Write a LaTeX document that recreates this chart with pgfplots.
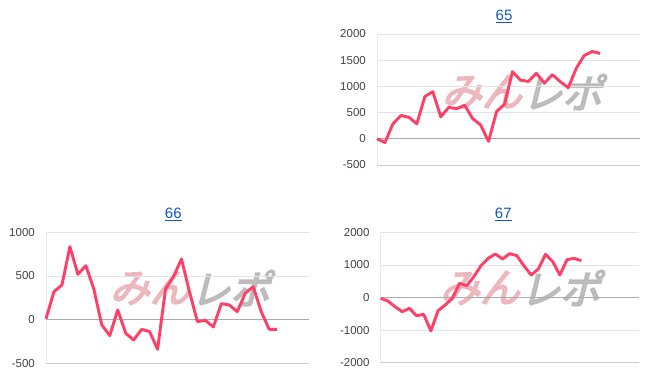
\documentclass[border=0pt]{standalone}
\usepackage{pgfplots}
\pgfplotsset{compat=1.18}
\usepackage{fontspec}
\setmainfont{Liberation Sans}
\newfontfamily\cjk{Noto Sans CJK JP}[FakeSlant=0.25,AutoFakeBold=4]
\definecolor{linec}{HTML}{FF3F65}
\definecolor{gridc}{HTML}{E3E3E3}
\definecolor{zeroc}{HTML}{ABABAB}
\definecolor{botc}{HTML}{CCCCCC}
\definecolor{leftc}{HTML}{EBEBEB}
\definecolor{tickc}{HTML}{444444}
\definecolor{titlec}{HTML}{1155CC}
\definecolor{wmpink}{HTML}{EBB0B7}
\definecolor{wmgrey}{HTML}{B5B5B5}
\pgfplotsset{mini/.style={
  scale only axis, height=131pt,
  anchor=south west,
  xmin=0,
  axis x line*=bottom, axis y line*=left,
  axis line style={-},
  x axis line style={draw=botc, line width=0.8pt},
  y axis line style={draw=leftc, line width=0.8pt},
  xtick=\empty,
  major tick length=0pt,
  ymajorgrids,
  major grid style={draw=gridc, line width=0.8pt},
  extra y ticks={0}, extra y tick labels={},
  extra y tick style={ymajorgrids=true, major grid style={draw=zeroc, line width=0.9pt}},
  yticklabel style={font=\fontsize{11.5}{12}\selectfont, text=tickc, anchor=east, inner sep=0pt, xshift=-11pt},
  /pgf/number format/assume math mode=true,
  /pgf/number format/set thousands separator={},
  clip=false,
}}
\tikzset{wm/.style={font=\cjk\bfseries\fontsize{40}{40}\selectfont, inner sep=0pt, opacity=0.85}}
\begin{document}
\begin{tikzpicture}
\useasboundingbox (0,0) rectangle (657pt,375pt);
% watermarks
\node[wm, anchor=east, text=wmpink] at (522pt,283pt) {みん};
\node[wm, anchor=west, text=wmgrey] at (522pt,283pt) {レポ};
\node[wm, anchor=east, text=wmpink] at (190pt,87pt) {みん};
\node[wm, anchor=west, text=wmgrey] at (190pt,87pt) {レポ};
\node[wm, anchor=east, text=wmpink] at (520pt,87pt) {みん};
\node[wm, anchor=west, text=wmgrey] at (520pt,87pt) {レポ};
% chart 65
\begin{axis}[mini, at={(377pt,210pt)}, width=263pt, xmax=33,
  ymin=-500, ymax=2000, ytick={-500,0,500,1000,1500,2000}]
\addplot[linec, line width=2.9pt, line join=round] coordinates {
(0,0)(1,-70)(2,285)(3,445)(4,410)(5,285)(6,805)(7,900)(8,420)(9,600)
(10,575)(11,640)(12,385)(13,265)(14,-50)(15,520)(16,660)(17,1280)(18,1120)(19,1095)
(20,1250)(21,1060)(22,1225)(23,1090)(24,975)(25,1345)(26,1590)(27,1665)(28,1630)};
\end{axis}
% chart 66
\begin{axis}[mini, at={(46pt,11.7pt)}, width=263pt, xmax=33,
  ymin=-500, ymax=1000, ytick={-500,0,500,1000}]
\addplot[linec, line width=2.9pt, line join=round] coordinates {
(0,10)(1,320)(2,397)(3,836)(4,519)(5,618)(6,351)(7,-61)(8,-183)(9,111)
(10,-156)(11,-233)(12,-111)(13,-137)(14,-340)(15,351)(16,492)(17,695)(18,320)(19,-23)
(20,-8)(21,-84)(22,183)(23,168)(24,92)(25,302)(26,378)(27,92)(28,-111)(29,-111)};
\end{axis}
% chart 67
\begin{axis}[mini, at={(380.7pt,12.3pt)}, width=258pt, height=130.4pt, xmax=36,
  ymin=-2000, ymax=2000, ytick={-2000,-1000,0,1000,2000}]
\addplot[linec, line width=2.9pt, line join=round] coordinates {
(0,-26)(1,-107)(2,-281)(3,-435)(4,-332)(5,-558)(6,-517)(7,-1028)(8,-404)(9,-230)
(10,-26)(11,435)(12,363)(13,639)(14,977)(15,1202)(16,1335)(17,1182)(18,1345)(19,1284)
(20,967)(21,691)(22,875)(23,1325)(24,1100)(25,691)(26,1161)(27,1202)(28,1130)};
\end{axis}
% titles
\node[anchor=base, inner sep=0pt, text=titlec, font=\fontsize{15}{15}\selectfont] at (504pt,354.3pt) {\underline{65}};
\node[anchor=base, inner sep=0pt, text=titlec, font=\fontsize{15}{15}\selectfont] at (173.3pt,156pt) {\underline{66}};
\node[anchor=base, inner sep=0pt, text=titlec, font=\fontsize{15}{15}\selectfont] at (503.3pt,156pt) {\underline{67}};
\end{tikzpicture}
\end{document}
